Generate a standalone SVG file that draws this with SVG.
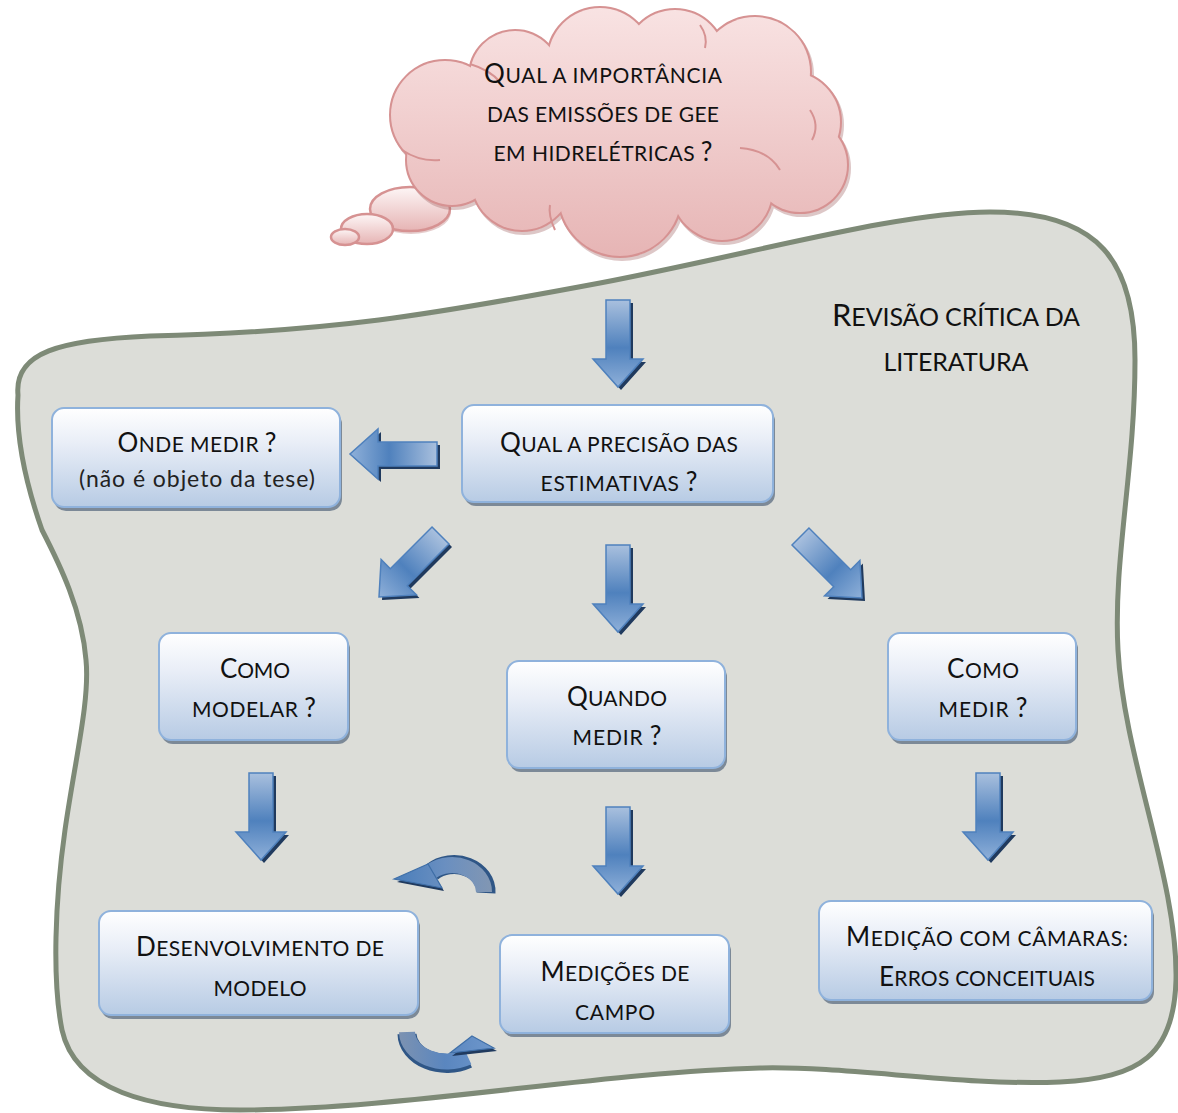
<svg xmlns="http://www.w3.org/2000/svg" width="1178" height="1113" viewBox="0 0 1178 1113">
<defs>
<linearGradient id="boxg" x1="0" y1="0" x2="0" y2="1"><stop offset="0" stop-color="#ffffff"/><stop offset="0.35" stop-color="#e9eef7"/><stop offset="1" stop-color="#b7cbe4"/></linearGradient>
<linearGradient id="cloudg" gradientUnits="userSpaceOnUse" x1="0" y1="0" x2="0" y2="260"><stop offset="0" stop-color="#f9e4e4"/><stop offset="0.45" stop-color="#f1cfcf"/><stop offset="1" stop-color="#e6b4b4"/></linearGradient>
<linearGradient id="bubg" x1="0" y1="0" x2="0" y2="1"><stop offset="0" stop-color="#fdf6f6"/><stop offset="1" stop-color="#e6b4b4"/></linearGradient>
<linearGradient id="arrg" x1="0" y1="0" x2="0" y2="1"><stop offset="0" stop-color="#a9c0de"/><stop offset="0.55" stop-color="#4f81bd"/><stop offset="1" stop-color="#8fb0d9"/></linearGradient>
<linearGradient id="curvg" gradientUnits="userSpaceOnUse" x1="395" y1="0" x2="495" y2="0"><stop offset="0" stop-color="#4a7ebb"/><stop offset="0.5" stop-color="#6a8fc0"/><stop offset="1" stop-color="#8397b2"/></linearGradient>
<linearGradient id="curvg2" gradientUnits="userSpaceOnUse" x1="395" y1="0" x2="495" y2="0"><stop offset="0" stop-color="#7f93b0"/><stop offset="0.5" stop-color="#5a86bf"/><stop offset="1" stop-color="#6f98cc"/></linearGradient>
<path id="arr" d="M-12,-87 L12,-87 L12,-28 L25,-28 L0,0 L-25,-28 L-12,-28 Z"/>
<style>
.bg{fill:url(#boxg);stroke:#8fb2dc;stroke-width:2}
.sh{fill:#7c8997}
text{font-family:Lato,"Open Sans","Liberation Sans",sans-serif;fill:#111;text-anchor:middle}
.sc{font-size:21px}
.cap{font-size:26px}
.nm{font-size:23px;fill:#222}
.big{font-size:25px}
.bigc{font-size:31px}
.ash{fill:#203a5e}
.arw{fill:url(#arrg);stroke:#4f81bd;stroke-width:1.5}
.cl{fill:url(#cloudg);stroke:none}
.clo{fill:none;stroke:#d69292;stroke-width:4}
</style>
</defs>

<g id="revisao">
<path d="M18,395 C14,352 60,340 150,336 C330,332 430,315 600,283 C760,252 900,212 990,212 C1100,212 1135,262 1135,360 C1135,470 1113,560 1118,650 C1124,760 1178,880 1176,980 C1174,1055 1140,1078 1060,1082 C960,1086 850,1066 760,1068 C600,1072 400,1110 240,1110 C150,1110 75,1090 62,1030 C52,980 55,900 65,830 C75,760 90,700 86,660 C82,610 60,565 42,530 C28,490 15,440 18,395 Z" fill="#dcddd8" stroke="#7e8a77" stroke-width="5"/>
<text x="956" y="326" class="big" textLength="248"><tspan class="bigc">R</tspan>EVISÃO CRÍTICA DA</text>
<text x="956" y="371" class="big" textLength="145">LITERATURA</text>
</g>

<g id="nuvem">
<ellipse cx="411" cy="212" rx="40" ry="22" fill="#c99" opacity="0.5"/>
<ellipse cx="410" cy="209" rx="40" ry="22" fill="url(#bubg)" stroke="#d69292" stroke-width="2.5"/>
<ellipse cx="367" cy="229" rx="26" ry="15" fill="url(#bubg)" stroke="#d69292" stroke-width="2.5"/>
<ellipse cx="345" cy="237" rx="14" ry="8" fill="url(#bubg)" stroke="#d69292" stroke-width="2.5"/>
<g class="clo" transform="translate(2,3)" opacity="0.35" style="stroke:#a06060">
<circle cx="445" cy="115" r="54"/><circle cx="515" cy="76" r="45"/><circle cx="600" cy="60" r="52"/><circle cx="675" cy="60" r="50"/><circle cx="755" cy="72" r="55"/><circle cx="790" cy="122" r="50"/><circle cx="800" cy="165" r="47"/><circle cx="722" cy="190" r="50"/><circle cx="620" cy="195" r="61"/><circle cx="522" cy="180" r="50"/><circle cx="452" cy="160" r="45"/>
</g>
<g class="clo">
<circle cx="445" cy="115" r="54"/><circle cx="515" cy="76" r="45"/><circle cx="600" cy="60" r="52"/><circle cx="675" cy="60" r="50"/><circle cx="755" cy="72" r="55"/><circle cx="790" cy="122" r="50"/><circle cx="800" cy="165" r="47"/><circle cx="722" cy="190" r="50"/><circle cx="620" cy="195" r="61"/><circle cx="522" cy="180" r="50"/><circle cx="452" cy="160" r="45"/>
</g>
<g class="cl">
<circle cx="445" cy="115" r="54"/><circle cx="515" cy="76" r="45"/><circle cx="600" cy="60" r="52"/><circle cx="675" cy="60" r="50"/><circle cx="755" cy="72" r="55"/><circle cx="790" cy="122" r="50"/><circle cx="800" cy="165" r="47"/><circle cx="722" cy="190" r="50"/><circle cx="620" cy="195" r="61"/><circle cx="522" cy="180" r="50"/><circle cx="452" cy="160" r="45"/>
<ellipse cx="620" cy="130" rx="180" ry="85"/>
</g>
<g fill="none" stroke="#d69292" stroke-width="2">
<path d="M402,150 Q420,162 440,160"/>
<path d="M470,64 Q490,70 500,82"/>
<path d="M740,148 Q768,150 780,170"/>
<path d="M810,110 Q820,125 812,140"/>
<path d="M700,25 Q708,36 705,48"/>
<path d="M555,230 Q548,215 550,205"/>
</g>
<text x="603" y="83" class="sc" textLength="238"><tspan class="cap">Q</tspan>UAL A IMPORTÂNCIA</text>
<text x="603" y="122" class="sc" textLength="232">DAS EMISSÕES DE GEE</text>
<text x="603" y="161" class="sc" textLength="219">EM HIDRELÉTRICAS <tspan class="cap">?</tspan></text>
</g>

<g id="conectores">
<g class="ash">
<use href="#arr" transform="translate(621,390)"/>
<use href="#arr" transform="translate(353,457) rotate(90)"/>
<use href="#arr" transform="translate(382,600) rotate(45)"/>
<use href="#arr" transform="translate(621,635)"/>
<use href="#arr" transform="translate(865,601) rotate(-45)"/>
<use href="#arr" transform="translate(264,863)"/>
<use href="#arr" transform="translate(621,897)"/>
<use href="#arr" transform="translate(991,863)"/>
</g>
<g class="arw">
<use href="#arr" transform="translate(618,387)"/>
<use href="#arr" transform="translate(350,454) rotate(90)"/>
<use href="#arr" transform="translate(379,597) rotate(45)"/>
<use href="#arr" transform="translate(618,632)"/>
<use href="#arr" transform="translate(862,598) rotate(-45)"/>
<use href="#arr" transform="translate(261,860)"/>
<use href="#arr" transform="translate(618,894)"/>
<use href="#arr" transform="translate(988,860)"/>
</g>
<g id="ciclo-topo">
<path d="M486,893 A32,27 0 0 0 432,872" fill="none" stroke="#2f5686" stroke-width="19"/>
<path d="M484,892 A32,27 0 0 0 432,871" fill="none" stroke="url(#curvg)" stroke-width="16"/>
<polygon points="397,882 430,868 444,891" fill="#203a5e"/>
<polygon points="394,879 428,864 442,888" fill="url(#curvg)" stroke="#3f6fa8" stroke-width="1.2"/>
</g>
<g id="ciclo-base">
<path d="M407,1034 A40,30 0 0 0 468,1059" fill="none" stroke="#2f5686" stroke-width="19"/>
<path d="M407,1032 A40,30 0 0 0 468,1057" fill="none" stroke="url(#curvg2)" stroke-width="16"/>
<polygon points="474,1039 497,1051 452,1056" fill="#203a5e"/>
<polygon points="472,1036 494,1048 450,1053" fill="url(#curvg2)" stroke="#3f6fa8" stroke-width="1.2"/>
</g>
</g>

<g id="onde">
<rect class="sh" x="54" y="412" width="288" height="99" rx="12"/>
<rect class="bg" x="52" y="408" width="288" height="99" rx="12"/>
<text x="197" y="452" class="sc" textLength="159"><tspan class="cap">O</tspan>NDE MEDIR <tspan class="cap">?</tspan></text>
<text x="197" y="487" class="nm" textLength="236">(não é objeto da tese)</text>
</g>

<g id="precisao">
<rect class="sh" x="464" y="409" width="311" height="97" rx="12"/>
<rect class="bg" x="462" y="405" width="311" height="97" rx="12"/>
<text x="619" y="452" class="sc" textLength="238"><tspan class="cap">Q</tspan>UAL A PRECISÃO DAS</text>
<text x="619" y="491" class="sc" textLength="157">ESTIMATIVAS <tspan class="cap">?</tspan></text>
</g>

<g id="modelar">
<rect class="sh" x="161" y="637" width="189" height="107" rx="12"/>
<rect class="bg" x="159" y="633" width="189" height="107" rx="12"/>
<text x="255" y="678" class="sc" textLength="70"><tspan class="cap">C</tspan>OMO</text>
<text x="254" y="717" class="sc" textLength="124">MODELAR <tspan class="cap">?</tspan></text>
</g>

<g id="quando">
<rect class="sh" x="509" y="665" width="218" height="107" rx="12"/>
<rect class="bg" x="507" y="661" width="218" height="107" rx="12"/>
<text x="617" y="706" class="sc" textLength="100"><tspan class="cap">Q</tspan>UANDO</text>
<text x="617" y="745" class="sc" textLength="89">MEDIR <tspan class="cap">?</tspan></text>
</g>

<g id="medir">
<rect class="sh" x="890" y="637" width="188" height="107" rx="12"/>
<rect class="bg" x="888" y="633" width="188" height="107" rx="12"/>
<text x="983" y="678" class="sc" textLength="72"><tspan class="cap">C</tspan>OMO</text>
<text x="983" y="717" class="sc" textLength="89">MEDIR <tspan class="cap">?</tspan></text>
</g>

<g id="desenvolvimento">
<rect class="sh" x="101" y="915" width="319" height="104" rx="12"/>
<rect class="bg" x="99" y="911" width="319" height="104" rx="12"/>
<text x="260" y="956" class="sc" textLength="248"><tspan class="cap">D</tspan>ESENVOLVIMENTO DE</text>
<text x="260" y="996" class="sc" textLength="93">MODELO</text>
</g>

<g id="campo">
<rect class="sh" x="502" y="939" width="229" height="98" rx="12"/>
<rect class="bg" x="500" y="935" width="229" height="98" rx="12"/>
<text x="615" y="981" class="sc" textLength="149"><tspan class="cap">M</tspan>EDIÇÕES DE</text>
<text x="615" y="1020" class="sc" textLength="80">CAMPO</text>
</g>

<g id="camaras">
<rect class="sh" x="821" y="905" width="333" height="99" rx="12"/>
<rect class="bg" x="819" y="901" width="333" height="99" rx="12"/>
<text x="987" y="946" class="sc" textLength="282"><tspan class="cap">M</tspan>EDIÇÃO COM CÂMARAS:</text>
<text x="987" y="986" class="sc" textLength="216"><tspan class="cap">E</tspan>RROS CONCEITUAIS</text>
</g>
</svg>
